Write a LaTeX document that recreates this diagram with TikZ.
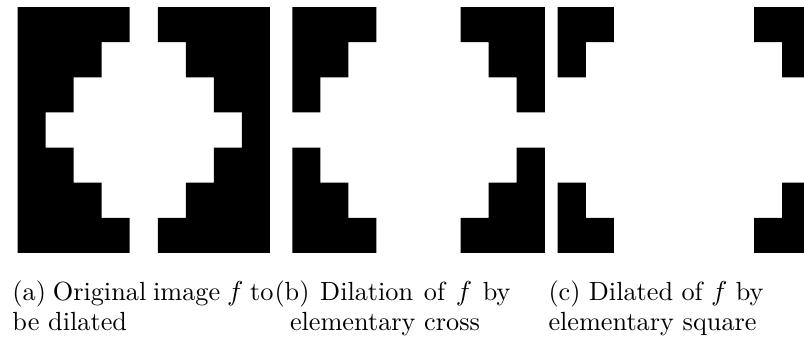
\documentclass[tikz,border=0pt]{standalone}
\begin{document}
\begin{tikzpicture}[x=0.4pt,y=-0.4pt,
  pix/.style={fill=black},
  captext/.style={inner sep=0pt,anchor=base west,font=\fontsize{10.5}{12.6}\selectfont}]
\useasboundingbox (0,0) rectangle (804,341);
\clip (0,0) rectangle (804,341);
\def\cw{28.05}\def\ch{35.14}\def\Y{7}
% panel (a)
\def\X{17.5}
\fill[pix] \foreach \c/\d/\r in {0/3/0,5/8/0,0/2/1,6/8/1,0/1/2,7/8/2,0/0/3,8/8/3,0/1/4,7/8/4,0/2/5,6/8/5,0/3/6,5/8/6}
  { ({\X+\c*\cw},{\Y+\r*\ch}) rectangle ({\X+(\d+1)*\cw},{\Y+(\r+1)*\ch}) };
% panel (b)
\def\X{292.3}
\fill[pix] \foreach \c/\d/\r in {0/2/0,6/8/0,0/1/1,7/8/1,0/0/2,8/8/2,0/0/4,8/8/4,0/1/5,7/8/5,0/2/6,6/8/6}
  { ({\X+\c*\cw},{\Y+\r*\ch}) rectangle ({\X+(\d+1)*\cw},{\Y+(\r+1)*\ch}) };
% panel (c)
\def\X{557.7}
\fill[pix] \foreach \c/\d/\r in {0/1/0,7/8/0,0/0/1,8/8/1,0/0/5,8/8/5,0/1/6,7/8/6}
  { ({\X+\c*\cw},{\Y+\r*\ch}) rectangle ({\X+(\d+1)*\cw},{\Y+(\r+1)*\ch}) };
% captions
\node[captext] (a1) at (12,300) {\makebox[104.4pt][s]{(a) Original image $f$ to}};
\node[captext] (a2) at (12,330) {be dilated};
\node[captext] (b1) at (274,300) {\makebox[94.4pt][s]{(b) Dilation of $f$ by}};
\node[captext,anchor=base] (b2) at (385,330) {elementary cross};
\node[captext] (c1) at (548,300) {\makebox[86pt][s]{(c) Dilated of $f$ by}};
\node[captext] (c2) at (548,330) {elementary square};
\end{tikzpicture}
\end{document}
